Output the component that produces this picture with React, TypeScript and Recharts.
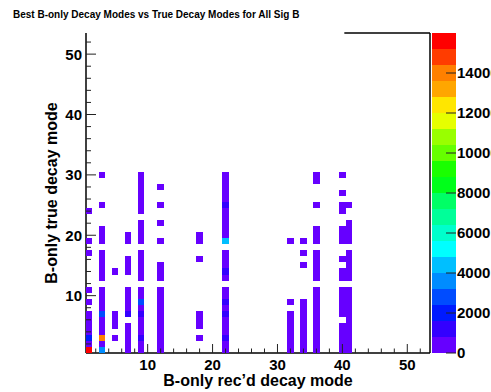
import React from "react";
import {
  Bar,
  BarChart,
  ReferenceLine,
  Scatter,
  ScatterChart,
  XAxis,
  YAxis,
} from "recharts";

// reconstructed decay modes (x bins) and, for each, the true modes (y bins) that were filled
const recModes = [1, 3, 5, 7, 9, 12, 18, 22, 32, 34, 36, 40, 41];
const trueModes = [
  [1, 2, 3, 4, 5, 6, 7, 9, 11, 17, 19, 24],
  [1, 2, 3, 4, 5, 6, 7, 8, 9, 10, 11, 13, 14, 15, 16, 17, 19, 20, 21, 25, 30],
  [3, 5, 6, 7, 14],
  [1, 2, 3, 4, 5, 7, 8, 9, 10, 11, 14, 15, 16, 19, 20],
  [1, 2, 3, 4, 5, 6, 7, 8, 9, 10, 11, 13, 14, 15, 16, 17, 19, 20, 21, 22, 24, 25, 26, 27, 28, 29, 30],
  [1, 2, 3, 4, 5, 6, 7, 8, 9, 10, 11, 13, 14, 15, 19, 22, 25, 28],
  [3, 5, 6, 7, 16, 19, 20],
  [1, 2, 3, 4, 5, 6, 7, 8, 9, 10, 11, 13, 14, 15, 16, 17, 19, 20, 21, 22, 23, 24, 25, 26, 27, 28, 29, 30],
  [1, 2, 3, 4, 5, 6, 7, 9, 19],
  [1, 2, 3, 4, 5, 6, 7, 8, 9, 15, 17, 19],
  [1, 2, 3, 4, 5, 6, 7, 8, 9, 10, 11, 13, 14, 15, 16, 17, 19, 20, 21, 25, 29, 30],
  [1, 2, 3, 4, 5, 7, 8, 9, 10, 11, 13, 14, 16, 19, 20, 21, 24, 25, 27, 30],
  [1, 2, 3, 4, 5, 6, 7, 8, 9, 10, 11, 13, 14, 15, 16, 17, 19, 20, 21, 22, 25],
];
const baseCount = 300;

// cells that stand out from the lowest colour band
const hotRec = [1, 1, 3, 3, 3, 7, 9, 9, 9, 22, 22, 22, 22, 22, 22];
const hotTrue = [1, 3, 1, 3, 7, 7, 3, 7, 9, 3, 7, 9, 14, 19, 25];
const hotCount = [15500, 2000, 3600, 14000, 2800, 1200, 1100, 1200, 2700, 1000, 1300, 1100, 1000, 4400, 1000];

const axisTicks = [2, 4, 6, 8, 10, 12, 14, 16, 18, 20, 22, 24, 26, 28, 30, 32, 34, 36, 38, 40, 42, 44, 46, 48, 50, 52];
const zLevels = [0, 800, 1600, 2400, 3200, 4000, 4800, 5600, 6400, 7200, 8000, 8800, 9600, 10400, 11200, 12000, 12800, 13600, 14400, 15200, 16000];
const zTicks = [0, 2000, 4000, 6000, 8000, 10000, 12000, 14000];
const palette = [
  "#6600ff", "#3300ff", "#001aff", "#004cff", "#008cff", "#00bfff", "#00ffff", "#00ffcc", "#00ff99", "#00ff66",
  "#00ff1a", "#1aff00", "#66ff00", "#99ff00", "#e6ff00", "#ffe600", "#ffa600", "#ff8000", "#ff3c00", "#ff0000",
];

const W = 491;
const H = 392;
const FONT = "'Liberation Sans', Arial, Helvetica, sans-serif";
const margin = { top: 33, right: 61, bottom: 0, left: 0 };
const yAxisW = 86;
const xAxisH = 39;
const domain: [number, number] = [0.5, 53.5];
const plotW = W - margin.left - margin.right - yAxisW;
const plotH = H - margin.top - margin.bottom - xAxisH;
const cellW = plotW / (domain[1] - domain[0]);
const cellH = plotH / (domain[1] - domain[0]);

const cells = recModes.flatMap((x, i) =>
  trueModes[i].map((y) => {
    const h = hotRec.findIndex((r, k) => r === x && hotTrue[k] === y);
    return { x, y, z: h >= 0 ? hotCount[h] : baseCount };
  })
);

function colorFor(z: number) {
  let band = 0;
  for (let i = 0; i < zLevels.length - 1; i++) if (z >= zLevels[i]) band = i;
  return palette[band];
}

const CellShape = (p: any) => (
  <rect
    x={p.cx - cellW / 2}
    y={p.cy - cellH / 2}
    width={cellW}
    height={cellH}
    fill={colorFor(p.payload.z)}
    shapeRendering="crispEdges"
  />
);

const XTick = ({ x, y, payload }: any) => {
  const major = payload.value % 10 === 0;
  return (
    <g>
      <line x1={x} x2={x} y1={y} y2={y - (major ? 9 : 4.5)} stroke="#222" />
      {major && (
        <text x={x} y={y + 16.5} textAnchor="middle" fontSize={15} fontWeight="bold" fontFamily={FONT} fill="#000">
          {payload.value}
        </text>
      )}
    </g>
  );
};

const YTick = ({ x, y, payload }: any) => {
  const major = payload.value % 10 === 0;
  return (
    <g>
      <line x1={x} x2={x + (major ? 10 : 5)} y1={y} y2={y} stroke="#222" />
      {major && (
        <text x={x - 4} y={y} dy="0.36em" textAnchor="end" fontSize={15} fontWeight="bold" fontFamily={FONT} fill="#000">
          {payload.value}
        </text>
      )}
    </g>
  );
};

const ZTick = ({ x, y, payload }: any) => (
  <g>
    <line x1={x} x2={x - 10} y1={y} y2={y} stroke="#222" />
    <text x={x + 1} y={y} dy="0.36em" textAnchor="start" fontSize={15} fontWeight="bold" fontFamily={FONT} fill="#000">
      {payload.value}
    </text>
  </g>
);

const zRow = [
  { name: "z", ...Object.fromEntries(zLevels.slice(1).map((lv, i) => [`b${i}`, lv - zLevels[i]])) },
];

export default function App() {
  return (
    <div style={{ position: "absolute", left: 0, top: 0, width: W, height: H, background: "#fff" }}>
      <div style={{ position: "absolute", left: 0, top: 0 }}>
        <ScatterChart width={W} height={H} margin={margin}>
          <XAxis
            type="number"
            dataKey="x"
            domain={domain}
            allowDataOverflow
            ticks={axisTicks}
            interval={0}
            height={xAxisH}
            tickSize={0}
            tickMargin={0}
            tickLine={false}
            tick={<XTick />}
            axisLine={{ stroke: "#000", strokeWidth: 1.5 }}
            label={{
              content: (p: any) => (
                <text
                  x={p.viewBox.x + p.viewBox.width / 2}
                  y={p.viewBox.y + 32.5}
                  textAnchor="middle"
                  fontSize={16}
                  fontWeight="bold"
                  fontFamily={FONT}
                  fill="#000"
                >
                  B-only rec’d decay mode
                </text>
              ),
            }}
          />
          <YAxis
            type="number"
            dataKey="y"
            domain={domain}
            allowDataOverflow
            ticks={axisTicks}
            interval={0}
            width={yAxisW}
            tickSize={0}
            tickMargin={0}
            tickLine={false}
            tick={<YTick />}
            axisLine={{ stroke: "#000", strokeWidth: 1.5 }}
            label={{
              content: (p: any) => {
                const cx = 56.5;
                const cy = p.viewBox.y + p.viewBox.height / 2;
                return (
                  <text
                    x={cx}
                    y={cy}
                    transform={`rotate(-90 ${cx} ${cy})`}
                    textAnchor="middle"
                    fontSize={16}
                    fontWeight="bold"
                    fontFamily={FONT}
                    fill="#000"
                  >
                    B-only true decay mode
                  </text>
                );
              },
            }}
          />
          <Scatter data={cells} shape={CellShape} isAnimationActive={false} />
          <ReferenceLine x={domain[1]} stroke="#000" strokeWidth={1.5} />
          <ReferenceLine
            segment={[
              { x: 40.3, y: domain[1] },
              { x: domain[1], y: domain[1] },
            ]}
            stroke="#000"
            strokeWidth={1.5}
          />
        </ScatterChart>
      </div>
      <div style={{ position: "absolute", left: 0, top: 0 }}>
        <BarChart
          width={W}
          height={H}
          data={zRow}
          margin={{ top: 33, right: 0, bottom: 39, left: 432 }}
          barCategoryGap={0}
          barGap={0}
        >
          <XAxis dataKey="name" type="category" hide />
          <YAxis
            orientation="right"
            type="number"
            domain={[zLevels[0], zLevels[zLevels.length - 1]]}
            ticks={zTicks}
            interval={0}
            width={35}
            tickSize={0}
            tickMargin={0}
            tickLine={false}
            axisLine={false}
            tick={<ZTick />}
          />
          {palette.map((c, i) => (
            <Bar key={i} dataKey={`b${i}`} stackId="z" fill={c} isAnimationActive={false} />
          ))}
          <YAxis yAxisId="ticks" hide />
        </BarChart>
      </div>
      <svg width={W} height={H} style={{ position: "absolute", left: 0, top: 0, pointerEvents: "none" }}>
        <text x={13} y={17.5} fontSize={10} fontWeight="bold" fontFamily={FONT} fill="#000">
          Best B-only Decay Modes vs True Decay Modes for All Sig B
        </text>
      </svg>
    </div>
  );
}
